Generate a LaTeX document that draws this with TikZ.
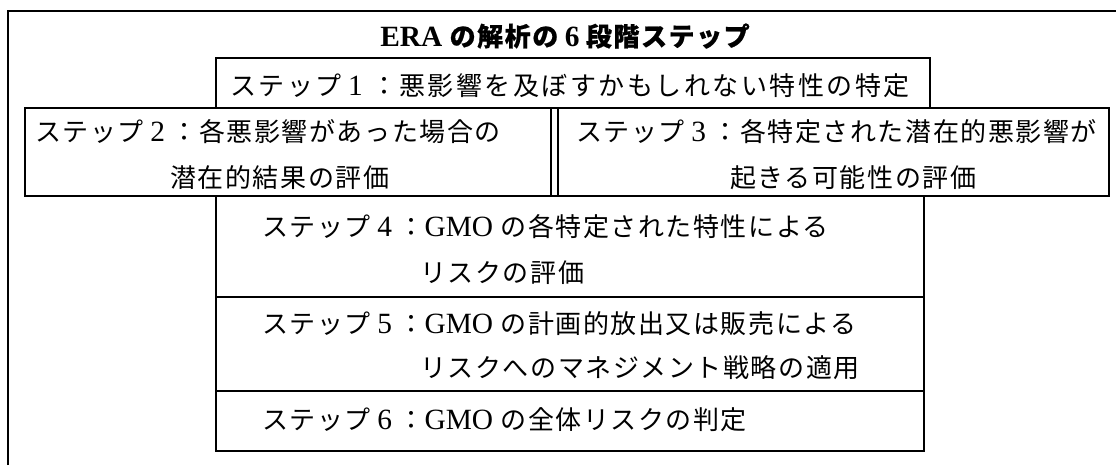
\documentclass[tikz,border=0pt]{standalone}
\usepackage{fontspec}
\setmainfont{Liberation Serif}[Scale=1.13]
\newfontfamily\jp{Noto Sans CJK JP}[LetterSpace=6]
\newfontfamily\jpwide{Noto Sans CJK JP}[LetterSpace=9.5]
\newfontfamily\jpbold{Noto Sans CJK JP}[LetterSpace=6,FakeBold=0.6]
\def\stepno#1{\makebox[20.7pt]{#1}}

\tikzset{
  frameline/.style={line width=1.8pt},
  boxline/.style={line width=1.1pt},
  steptext/.style={anchor=base west, inner sep=0pt, font=\fontsize{19.5pt}{24pt}\selectfont},
  titletext/.style={anchor=base, inner sep=0pt, font=\fontsize{19.5pt}{24pt}\selectfont\bfseries}
}

\begin{document}
\begin{tikzpicture}[x=0.75pt,y=-0.75pt]
		%%%%% START %%%%%
		\useasboundingbox (0,0) rectangle (1116,465);
		
		\draw[frameline] (8,465) -- (8,11) -- (1116,11);
		\node[titletext] (title) at (565,46) {ERA {\jpbold の解析の}\stepno{6}{\jpbold 段階ステップ}};
		
		\draw[boxline] (216,58) rectangle (930,108);
		\node[steptext] (s1) at (230,95) {{\jpwide ステップ}\stepno{1}\hspace{1.3pt}{\jpwide ：悪影響を及ぼすかもしれない特性の特定}};
		
		\draw[boxline] (25,108) rectangle (551,196);
		\node[steptext] (s2a) at (35,141) {{\jp ステップ}\stepno{2}{\jp ：各悪影響があった場合の}};
		\node[steptext] (s2b) at (170,187) {\jp 潜在的結果の評価};
		
		\draw[boxline] (558,108) rectangle (1109,196);
		\node[steptext] (s3a) at (576,141) {{\jp ステップ}\stepno{3}{\jp ：各特定された潜在的悪影響が}};
		\node[steptext] (s3b) at (730,187) {\jp 起きる可能性の評価};
		
		\draw[boxline] (216,196) rectangle (924,297);
		\node[steptext] (s4a) at (262,236) {{\jp ステップ}\stepno{4}{\jp ：}GMO {\jp の各特定された特性による}};
		\node[steptext] (s4b) at (420,282) {\jp リスクの評価};
		
		\draw[boxline] (216,297) rectangle (924,391);
		\node[steptext] (s5a) at (262,333) {{\jp ステップ}\stepno{5}{\jp ：}GMO {\jp の計画的放出又は販売による}};
		\node[steptext] (s5b) at (420,377) {\jp リスクへのマネジメント戦略の適用};
		
		\draw[boxline] (216,391) rectangle (924,451);
		\node[steptext] (s6) at (262,429) {{\jp ステップ}\stepno{6}{\jp ：}GMO {\jp の全体リスクの判定}};
		
		%%%%% END %%%%%
	\end{tikzpicture}
\end{document}
